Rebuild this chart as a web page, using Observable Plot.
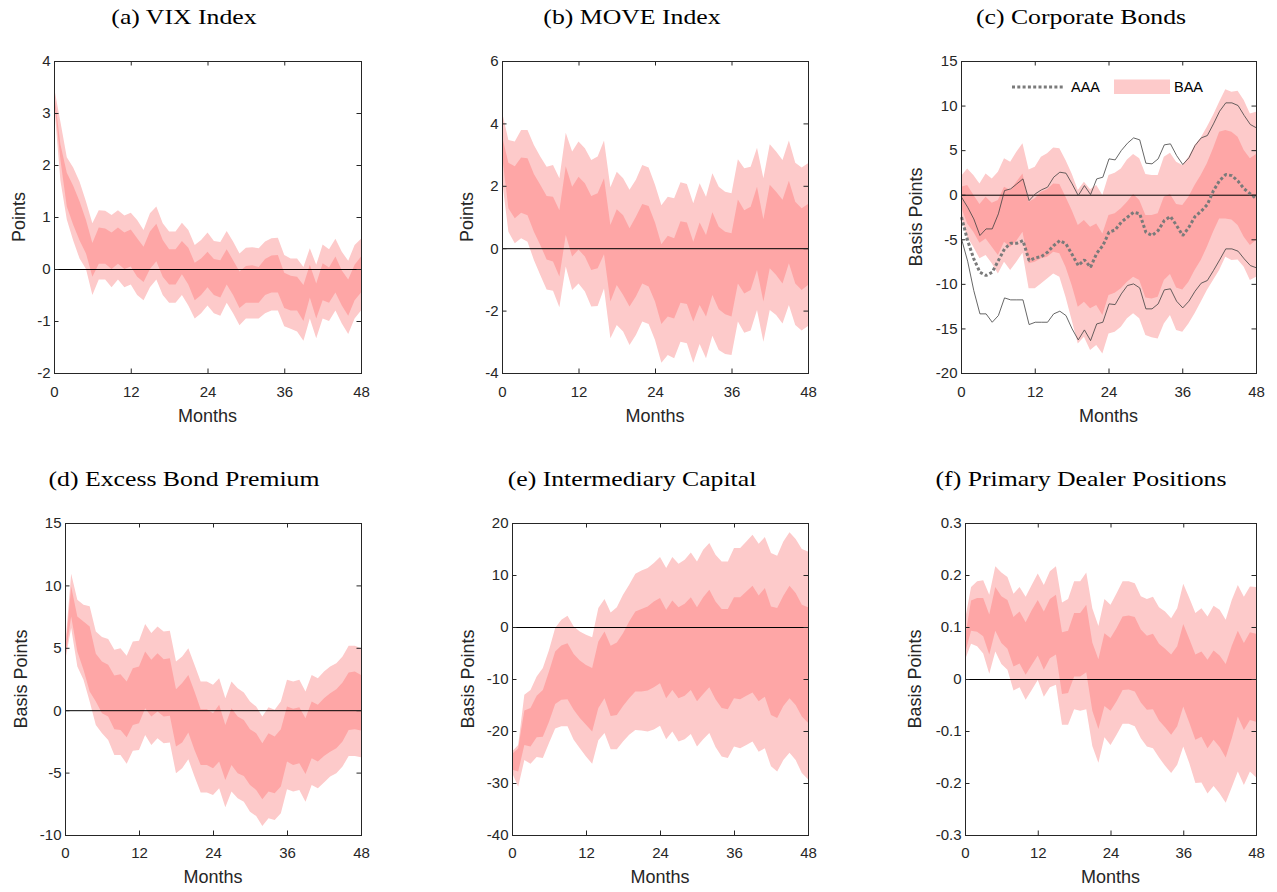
<!DOCTYPE html>
<html>
<head>
<meta charset="utf-8">
<script src="https://cdn.jsdelivr.net/npm/d3@7"></script>
<script src="https://cdn.jsdelivr.net/npm/@observablehq/plot@0.6"></script>
<style>
  body { margin: 0; background: #fff; }
  #fig { position: relative; width: 1277px; height: 892px; overflow: hidden; background: #fff; }
  .panel { position: absolute; }
  #overlay { position: absolute; left: 0; top: 0; pointer-events: none; }
</style>
</head>
<body>
<div id="fig"></div>
<script>
// Horizon in months after the shock
const months = Array.from({length: 49}, (_, i) => i);
const xTicks = [0, 12, 24, 36, 48];

// (a) VIX Index: outer (light) and inner (dark) confidence bands, points
const vixOuterHi = [3.5, 2.83, 2.15, 1.95, 1.68, 1.3, 0.88, 1.13, 1.12, 1.04, 1.13, 1.03, 1.08, 0.94, 0.75, 1.07, 1.2, 0.88, 0.72, 0.72, 0.89, 0.75, 0.46, 0.56, 0.7, 0.54, 0.52, 0.73, 0.53, 0.3, 0.41, 0.42, 0.4, 0.53, 0.59, 0.6, 0.27, 0.2, 0.2, 0.04, 0.4, 0.08, 0.47, 0.38, 0.58, 0.33, 0.16, 0.46, 0.58];
const vixInnerHi = [3.4, 2.4, 1.85, 1.6, 1.3, 0.94, 0.5, 0.8, 0.78, 0.7, 0.8, 0.7, 0.76, 0.59, 0.43, 0.72, 0.87, 0.56, 0.38, 0.38, 0.54, 0.41, 0.12, 0.2, 0.33, 0.19, 0.17, 0.38, 0.17, -0.05, 0.06, 0.07, 0.04, 0.19, 0.26, 0.27, -0.07, -0.13, -0.15, -0.31, 0.08, -0.28, 0.11, 0.03, 0.24, -0.03, -0.2, 0.08, 0.24];
const vixInnerLo = [3.3, 2.1, 1.2, 0.85, 0.55, 0.3, -0.15, 0.1, 0.1, 0.0, 0.1, 0.0, 0.05, -0.15, -0.25, 0.0, 0.15, -0.15, -0.3, -0.3, -0.1, -0.3, -0.6, -0.5, -0.35, -0.5, -0.55, -0.3, -0.5, -0.75, -0.65, -0.65, -0.65, -0.5, -0.45, -0.45, -0.75, -0.8, -0.8, -1.0, -0.55, -0.95, -0.6, -0.65, -0.45, -0.7, -0.9, -0.6, -0.45];
const vixOuterLo = [3.2, 1.7, 0.95, 0.55, 0.2, 0.0, -0.5, -0.2, -0.2, -0.35, -0.2, -0.35, -0.3, -0.5, -0.6, -0.35, -0.2, -0.5, -0.65, -0.65, -0.5, -0.7, -0.95, -0.85, -0.7, -0.85, -0.9, -0.65, -0.85, -1.08, -0.95, -0.95, -0.95, -0.85, -0.8, -0.8, -1.1, -1.15, -1.2, -1.38, -0.95, -1.33, -0.95, -1.0, -0.8, -1.05, -1.25, -0.95, -0.8];

// (b) MOVE Index, points
const moveOuterHi = [4.37, 3.47, 3.42, 3.79, 3.79, 3.31, 2.94, 2.61, 2.67, 2.24, 3.7, 3.1, 3.42, 3.2, 2.83, 2.94, 3.45, 1.95, 2.45, 2.24, 1.87, 2.19, 2.67, 2.59, 2.03, 1.38, 1.65, 1.6, 2.11, 2.06, 1.44, 2.08, 1.65, 2.4, 1.97, 1.81, 1.76, 2.85, 2.56, 2.61, 3.22, 2.24, 3.33, 3.1, 2.83, 3.45, 2.74, 2.59, 2.72];
const moveInnerHi = [3.6, 2.74, 2.63, 2.91, 2.88, 2.38, 2.03, 1.67, 1.65, 1.22, 2.63, 1.97, 2.29, 2.08, 1.67, 1.76, 2.24, 0.74, 1.25, 1.06, 0.64, 1.01, 1.42, 1.35, 0.82, 0.13, 0.4, 0.32, 0.86, 0.82, 0.21, 0.82, 0.42, 1.15, 0.69, 0.53, 0.48, 1.56, 1.22, 1.33, 1.97, 0.93, 2.03, 1.81, 1.55, 2.16, 1.49, 1.28, 1.42];
const moveInnerLo = [3.0, 1.28, 0.96, 1.14, 1.06, 0.53, 0.1, -0.36, -0.43, -0.91, 0.42, -0.27, -0.04, -0.27, -0.7, -0.64, -0.19, -1.71, -1.18, -1.5, -1.87, -1.55, -1.13, -1.23, -1.71, -2.43, -2.19, -2.25, -1.75, -1.79, -2.35, -1.82, -2.19, -1.5, -1.96, -2.12, -2.19, -1.13, -1.45, -1.34, -0.7, -1.71, -0.64, -0.86, -1.13, -0.48, -1.13, -1.34, -1.18];
const moveOuterLo = [2.2, 0.53, 0.16, 0.32, 0.21, -0.38, -0.86, -1.32, -1.36, -1.89, -0.59, -1.34, -1.13, -1.39, -1.87, -1.85, -1.29, -2.89, -2.46, -2.67, -3.1, -2.78, -2.35, -2.43, -2.94, -3.67, -3.42, -3.53, -3.0, -3.05, -3.67, -3.07, -3.53, -2.81, -3.26, -3.39, -3.42, -2.35, -2.71, -2.64, -1.98, -3.0, -1.98, -2.14, -2.41, -1.82, -2.46, -2.64, -2.49];

// (c) Corporate bonds, basis points: BAA bands, AAA band edges and AAA median
const baaOuterHi = [2.1, 2.95, 2.2, 1.27, 2.39, 1.83, 2.58, 4.08, 3.7, 4.82, 5.76, 2.84, 3.14, 4.26, 4.64, 5.31, 5.2, 3.89, 2.39, 0.52, 1.46, 0.6, 1.08, -0.04, 2.2, 2.47, 2.95, 3.96, 4.56, 4.08, 2.32, 2.2, 2.2, 4.26, 4.71, 3.7, 3.33, 4.26, 5.57, 6.43, 7.63, 8.94, 10.43, 11.82, 11.56, 11.67, 10.62, 9.12, 9.31];
const baaInnerHi = [0.9, 1.08, 0, -1.05, -0.22, -0.9, -0.6, 0.9, 0.52, 1.46, 2.39, -0.79, -0.41, 0.34, 0.6, 1.27, 1.2, -0.22, -1.72, -3.4, -2.84, -3.59, -3.22, -4.34, -2.28, -2.09, -1.53, -0.79, 0.07, -0.6, -2.28, -2.28, -2.09, -0.22, 0.07, -1.05, -1.16, -0.22, 1.08, 2.2, 3.52, 5.2, 7.07, 7.25, 7.07, 6.51, 5.01, 4.08, 4.56];
const baaInnerLo = [-1.35, -3.22, -4.15, -5.39, -4.9, -5.83, -6.77, -5.27, -5.83, -5.16, -4.15, -7.7, -7.52, -7.14, -6.96, -6.39, -6.58, -8.08, -10.13, -12.57, -12.0, -12.75, -12.38, -13.5, -11.26, -10.99, -10.5, -9.76, -9.2, -9.57, -11.52, -11.63, -11.44, -9.57, -8.9, -10.4, -10.62, -9.76, -8.45, -7.33, -5.83, -4.15, -2.66, -2.66, -2.77, -3.4, -4.71, -5.65, -5.09];
const baaOuterLo = [-2.47, -4.71, -5.83, -7.14, -6.77, -7.7, -8.83, -7.52, -8.45, -7.52, -6.51, -10.5, -10.5, -9.95, -9.39, -8.83, -9.2, -11.44, -14.06, -16.68, -15.93, -17.43, -16.87, -17.8, -15.56, -15.37, -14.81, -13.87, -13.31, -13.87, -15.74, -16.0, -16.12, -14.44, -13.5, -15.18, -15.37, -14.44, -13.31, -12.0, -10.7, -9.57, -8.45, -6.96, -7.33, -7.26, -8.08, -9.57, -9.2];
const aaaHi = [-0.22, -1.35, -2.66, -4.52, -3.78, -3.78, -2.09, 0.52, 0.71, 1.27, 1.83, -0.6, 0.15, 0.6, 0.9, 2.02, 2.58, 2.47, 1.27, -0.04, 1.08, 0.07, 1.83, 2.02, 4.08, 3.96, 5.01, 5.83, 6.43, 6.21, 3.59, 3.52, 4.08, 5.65, 5.76, 4.45, 3.44, 4.19, 5.57, 6.43, 6.69, 8.0, 9.42, 10.36, 10.36, 10.06, 8.94, 7.93, 7.55];
const aaaLo = [-4.9, -7.4, -10.7, -13.31, -13.31, -14.25, -13.5, -11.52, -11.74, -11.74, -11.74, -14.51, -14.25, -14.25, -14.25, -13.31, -13.01, -13.5, -15.0, -16.23, -15.11, -16.31, -14.44, -14.25, -12.19, -12.27, -11.07, -10.13, -9.95, -10.4, -12.75, -12.75, -12.19, -10.62, -10.5, -11.89, -12.64, -11.89, -10.77, -9.87, -9.57, -8.45, -7.26, -6.02, -6.02, -6.28, -7.14, -7.89, -8.15];
const aaaMid = [-2.47, -5.09, -7.14, -8.64, -9.01, -8.64, -7.33, -6.02, -5.39, -5.39, -5.09, -7.33, -7.03, -6.88, -6.39, -5.65, -5.09, -5.46, -6.66, -7.89, -7.25, -8.08, -6.51, -5.65, -4.15, -3.89, -3.03, -2.47, -1.91, -2.09, -4.15, -4.52, -3.96, -2.84, -2.39, -3.4, -4.52, -3.59, -2.39, -1.8, -1.05, 0.52, 1.65, 2.32, 2.2, 1.57, 0.71, 0.15, -0.41];

// (d) Excess bond premium, basis points
const ebpOuterHi = [4.97, 10.94, 8.85, 8.45, 8.32, 6.31, 5.86, 5.7, 4.84, 4.97, 4.36, 5.51, 5.56, 6.9, 6.18, 6.71, 6.31, 6.36, 3.9, 4.3, 4.97, 3.64, 2.3, 2.3, 2.03, 2.57, 0.96, 2.3, 1.76, 1.42, 0.7, 0.29, -0.51, 0.24, 0.03, 0.7, 2.43, 2.3, 2.43, 1.5, 2.83, 2.57, 3.1, 3.5, 3.77, 4.3, 5.16, 5.16, 4.97];
const ebpInnerHi = [4.5, 9.92, 7.51, 7.11, 6.71, 4.52, 3.9, 3.64, 2.78, 2.89, 2.3, 3.37, 3.5, 4.71, 4.04, 4.57, 4.09, 4.17, 1.68, 2.17, 2.83, 1.5, 0.08, 0.08, -0.24, 0.43, -1.18, 0.16, -0.51, -0.78, -1.52, -1.84, -2.65, -1.84, -2.11, -1.52, 0.29, 0.11, 0.24, -0.64, 0.7, 0.43, 0.96, 1.36, 1.68, 2.22, 3.02, 3.1, 2.83];
const ebpInnerLo = [4.1, 7.51, 4.71, 3.24, 1.5, 0.7, -0.24, -0.51, -1.52, -1.58, -2.17, -1.18, -1.04, 0.16, -0.51, -0.11, -0.51, -0.45, -2.91, -2.59, -1.79, -3.18, -4.39, -4.39, -4.65, -4.12, -5.59, -4.39, -5.05, -5.27, -5.99, -6.39, -7.14, -6.52, -6.66, -6.12, -4.12, -4.39, -4.25, -5.11, -3.85, -4.12, -3.66, -3.32, -3.05, -2.51, -1.58, -1.52, -1.63];
const ebpOuterLo = [3.9, 6.58, 3.5, 2.43, 0.7, -1.18, -1.84, -2.38, -3.58, -3.58, -4.3, -3.24, -3.18, -1.98, -2.78, -2.25, -2.65, -2.59, -5.05, -4.65, -3.93, -5.32, -6.6, -6.6, -6.79, -6.26, -7.78, -6.52, -7.06, -7.33, -8.13, -8.48, -9.28, -8.66, -8.8, -8.26, -6.34, -6.52, -6.39, -7.33, -5.99, -6.26, -5.8, -5.32, -5.05, -4.52, -3.66, -3.66, -3.77];

// (e) Intermediary capital, basis points
const capOuterHi = [-23.96, -22.7, -13.05, -12.1, -9.5, -7.9, -4.4, -0.2, 1.4, 2.15, 0.1, -0.86, -1.5, -1.95, 3.63, 5.4, 2.8, 3.82, 6.2, 8.13, 10.24, 10.88, 11.33, 12.3, 13.45, 11.33, 13.45, 12.17, 12.94, 14.35, 12.62, 14.87, 16.15, 13.9, 12.62, 12.62, 15.18, 15.18, 16.46, 17.74, 16.0, 17.3, 14.22, 13.7, 16.46, 18.2, 16.9, 14.99, 14.54];
const capInnerHi = [-24.4, -23.3, -16.07, -15.6, -13.2, -12.1, -8.57, -4.7, -3.57, -3.12, -5.2, -6.45, -7.3, -7.9, -2.8, -0.86, -3.6, -2.97, -1.18, 1.07, 3.0, 3.44, 3.95, 4.9, 5.56, 3.3, 5.1, 3.82, 4.46, 5.74, 3.82, 5.74, 7.16, 4.9, 3.44, 3.44, 5.74, 5.74, 6.84, 7.93, 6.07, 7.48, 3.95, 3.63, 6.0, 7.93, 6.52, 4.27, 3.82];
const capInnerLo = [-27.4, -27.8, -22.7, -23.0, -21.2, -21.1, -18.2, -14.8, -14.0, -13.9, -15.9, -17.5, -18.8, -20.1, -15.6, -13.7, -17.1, -16.9, -15.2, -13.7, -12.4, -12.4, -12.2, -11.6, -10.8, -13.7, -12.1, -13.7, -13.2, -12.1, -14.3, -12.9, -11.6, -13.9, -15.6, -15.8, -13.7, -13.9, -13.2, -12.6, -14.3, -13.4, -16.9, -17.5, -15.2, -13.7, -15.0, -17.2, -18.4];
const capOuterLo = [-28.0, -30.7, -25.6, -26.3, -25.0, -25.2, -22.3, -19.5, -19.1, -19.1, -21.7, -23.3, -24.9, -26.3, -21.8, -20.4, -23.5, -23.5, -22.0, -20.7, -19.8, -19.9, -20.1, -19.7, -19.0, -21.6, -20.1, -22.0, -21.6, -20.6, -23.0, -21.6, -20.4, -23.1, -24.9, -25.2, -23.0, -23.3, -22.7, -22.0, -24.0, -23.3, -26.8, -27.8, -25.6, -24.2, -25.6, -28.1, -29.3];

// (f) Primary dealer positions, basis points
const pdOuterHi = [0.114, 0.177, 0.188, 0.19, 0.162, 0.217, 0.205, 0.196, 0.164, 0.177, 0.158, 0.181, 0.203, 0.181, 0.207, 0.217, 0.147, 0.154, 0.188, 0.188, 0.205, 0.136, 0.102, 0.154, 0.143, 0.165, 0.188, 0.188, 0.184, 0.159, 0.154, 0.158, 0.138, 0.13, 0.117, 0.136, 0.183, 0.156, 0.127, 0.136, 0.12, 0.141, 0.133, 0.114, 0.152, 0.181, 0.158, 0.178, 0.177];
const pdInnerHi = [0.08, 0.151, 0.156, 0.156, 0.124, 0.177, 0.159, 0.152, 0.119, 0.13, 0.109, 0.132, 0.152, 0.13, 0.154, 0.162, 0.09, 0.093, 0.127, 0.127, 0.143, 0.07, 0.038, 0.088, 0.079, 0.098, 0.12, 0.122, 0.119, 0.095, 0.083, 0.087, 0.068, 0.058, 0.047, 0.063, 0.106, 0.077, 0.047, 0.053, 0.037, 0.055, 0.045, 0.029, 0.064, 0.093, 0.069, 0.09, 0.087];
const pdInnerLo = [0.05, 0.093, 0.091, 0.082, 0.047, 0.093, 0.069, 0.058, 0.024, 0.03, 0.008, 0.027, 0.045, 0.018, 0.04, 0.047, -0.029, -0.027, 0.005, 0.005, 0.013, -0.061, -0.096, -0.052, -0.061, -0.043, -0.021, -0.02, -0.024, -0.045, -0.059, -0.058, -0.08, -0.093, -0.107, -0.091, -0.053, -0.084, -0.117, -0.111, -0.133, -0.117, -0.131, -0.151, -0.114, -0.072, -0.098, -0.079, -0.082];
const pdOuterLo = [0.037, 0.068, 0.063, 0.049, 0.01, 0.053, 0.029, 0.018, -0.022, -0.016, -0.04, -0.021, -0.002, -0.034, -0.016, -0.011, -0.088, -0.088, -0.058, -0.061, -0.058, -0.129, -0.161, -0.112, -0.127, -0.107, -0.086, -0.086, -0.091, -0.114, -0.13, -0.133, -0.151, -0.167, -0.181, -0.165, -0.13, -0.162, -0.2, -0.199, -0.22, -0.206, -0.22, -0.238, -0.208, -0.178, -0.204, -0.178, -0.189];

const LIGHT = "#fdcaca";
const DARK = "#fea6a6";
const INK = "#262626";
const SANS = "'Liberation Sans', Arial, sans-serif";
const TICK = 4.5;
const ML = 60, MT = 12, MR = 12, MB = 40;

const fmt = v => (Math.abs(v) < 1e-9 ? "0" : String(v));

function bandRows(oHi, iHi, iLo, oLo, extra = {}) {
  return months.map((m, i) => {
    const row = {m, oHi: oHi[i], iHi: iHi[i], iLo: iLo[i], oLo: oLo[i]};
    for (const k in extra) row[k] = extra[k][i];
    return row;
  });
}

const panels = [
  {frame: [54, 61, 307, 312], domain: [-2, 4], ticks: [-2, -1, 0, 1, 2, 3, 4], xPad: 13,
   rows: bandRows(vixOuterHi, vixInnerHi, vixInnerLo, vixOuterLo)},
  {frame: [502, 61, 306, 312], domain: [-4, 6], ticks: [-4, -2, 0, 2, 4, 6], xPad: 13,
   rows: bandRows(moveOuterHi, moveInnerHi, moveInnerLo, moveOuterLo)},
  {frame: [961, 61, 295, 312], domain: [-20, 15], ticks: [-20, -15, -10, -5, 0, 5, 10, 15], xPad: 13,
   rows: bandRows(baaOuterHi, baaInnerHi, baaInnerLo, baaOuterLo, {aHi: aaaHi, aLo: aaaLo, aMid: aaaMid}),
   aaa: true},
  {frame: [65, 523, 296, 312], domain: [-10, 15], ticks: [-10, -5, 0, 5, 10, 15], xPad: 12,
   rows: bandRows(ebpOuterHi, ebpInnerHi, ebpInnerLo, ebpOuterLo)},
  {frame: [512, 523, 296, 312], domain: [-40, 20], ticks: [-40, -30, -20, -10, 0, 10, 20], xPad: 12,
   rows: bandRows(capOuterHi, capInnerHi, capInnerLo, capOuterLo)},
  {frame: [965, 523, 291, 312], domain: [-0.3, 0.3], ticks: [-0.3, -0.2, -0.1, 0, 0.1, 0.2, 0.3], xPad: 12,
   rows: bandRows(pdOuterHi, pdInnerHi, pdInnerLo, pdOuterLo)}
];

const fig = document.getElementById("fig");

for (const p of panels) {
  const [fx, fy, fw, fh] = p.frame;
  const marks = [
    Plot.areaY(p.rows, {x: "m", y1: "oLo", y2: "oHi", fill: LIGHT}),
    Plot.areaY(p.rows, {x: "m", y1: "iLo", y2: "iHi", fill: DARK}),
    Plot.ruleY([0], {stroke: "#000", strokeWidth: 1})
  ];
  if (p.aaa) {
    marks.push(
      Plot.lineY(p.rows, {x: "m", y: "aHi", stroke: "#404040", strokeWidth: 0.8}),
      Plot.lineY(p.rows, {x: "m", y: "aLo", stroke: "#404040", strokeWidth: 0.8}),
      Plot.lineY(p.rows, {x: "m", y: "aMid", stroke: "#7a7a7a", strokeWidth: 3,
        strokeDasharray: "3,2.3", strokeLinecap: "butt", strokeLinejoin: "miter"})
    );
  }
  // inward ticks on all four sides of the box
  marks.push(
    Plot.tickX(xTicks, {x: d => d, stroke: INK, insetTop: fh - TICK}),
    Plot.tickX(xTicks, {x: d => d, stroke: INK, insetBottom: fh - TICK}),
    Plot.tickY(p.ticks, {y: d => d, stroke: INK, insetRight: fw - TICK}),
    Plot.tickY(p.ticks, {y: d => d, stroke: INK, insetLeft: fw - TICK}),
    Plot.frame({stroke: INK, strokeWidth: 1})
  );
  const svg = Plot.plot({
    width: fw + ML + MR,
    height: fh + MT + MB,
    marginLeft: ML, marginRight: MR, marginTop: MT, marginBottom: MB,
    x: {domain: [0, 48], ticks: xTicks, tickSize: 0, tickPadding: p.xPad, tickFormat: fmt, label: null},
    y: {domain: p.domain, ticks: p.ticks, tickSize: 0, tickPadding: 4, tickFormat: fmt, label: null},
    style: {fontFamily: SANS, fontSize: "15px", color: INK, background: "transparent", overflow: "visible"},
    marks
  });
  svg.querySelectorAll('g[aria-label$="tick label"]').forEach(g => {
    g.setAttribute("font-size", 15);
    g.style.fontSize = "15px";
  });
  const holder = document.createElement("div");
  holder.className = "panel";
  holder.style.left = (fx - ML) + "px";
  holder.style.top = (fy - MT) + "px";
  holder.appendChild(svg);
  fig.appendChild(holder);
}

// Titles, axis labels and the legend of panel (c)
const titles = [
  ["(a) VIX Index", 184, 24], ["(b) MOVE Index", 632, 24], ["(c) Corporate Bonds", 1081, 24],
  ["(d) Excess Bond Premium", 184, 486], ["(e) Intermediary Capital", 632, 486], ["(f) Primary Dealer Positions", 1081, 486]
];
const yLabels = [
  ["Points", 25, 217], ["Points", 473, 217], ["Basis Points", 922, 217],
  ["Basis Points", 27, 679], ["Basis Points", 474, 679], ["Basis Points", 921, 679]
];
const xLabels = [[207.5, 422], [655, 422], [1108.5, 422], [213, 883], [660, 883], [1110.5, 883]];

const NS = "http://www.w3.org/2000/svg";
const ov = document.createElementNS(NS, "svg");
ov.setAttribute("id", "overlay");
ov.setAttribute("width", 1277);
ov.setAttribute("height", 892);
fig.appendChild(ov);
function txt(s, x, y, attrs) {
  const t = document.createElementNS(NS, "text");
  t.textContent = s;
  t.setAttribute("x", x);
  t.setAttribute("y", y);
  for (const k in attrs) t.setAttribute(k, attrs[k]);
  ov.appendChild(t);
  return t;
}
for (const [s, x, y] of titles) {
  const t = txt(s, x, y, {"text-anchor": "middle", "font-family": "'Liberation Serif', 'Times New Roman', serif", "font-size": 22, fill: "#000"});
  // the book face used for captions runs wider than Times
  const len = t.getComputedTextLength();
  t.setAttribute("textLength", (len * 1.17).toFixed(1));
  t.setAttribute("lengthAdjust", "spacingAndGlyphs");
}
for (const [x, y] of xLabels)
  txt("Months", x, y, {"text-anchor": "middle", "font-family": SANS, "font-size": 18, fill: INK});
for (const [s, x, y] of yLabels)
  txt(s, 0, 0, {"text-anchor": "middle", "font-family": SANS, "font-size": 18, fill: INK,
    transform: `translate(${x},${y}) rotate(-90)`});

// legend for (c)
const dash = document.createElementNS(NS, "line");
dash.setAttribute("x1", 1012); dash.setAttribute("x2", 1065);
dash.setAttribute("y1", 87); dash.setAttribute("y2", 87);
dash.setAttribute("stroke", "#7a7a7a"); dash.setAttribute("stroke-width", 3);
dash.setAttribute("stroke-dasharray", "3,2.3");
ov.appendChild(dash);
txt("AAA", 1071, 92, {"font-family": SANS, "font-size": 14.5, fill: "#000"});
const sw = document.createElementNS(NS, "rect");
sw.setAttribute("x", 1114); sw.setAttribute("y", 79.5);
sw.setAttribute("width", 56); sw.setAttribute("height", 14.5);
sw.setAttribute("fill", LIGHT);
ov.appendChild(sw);
txt("BAA", 1174, 92, {"font-family": SANS, "font-size": 14.5, fill: "#000"});
</script>
</body>
</html>
